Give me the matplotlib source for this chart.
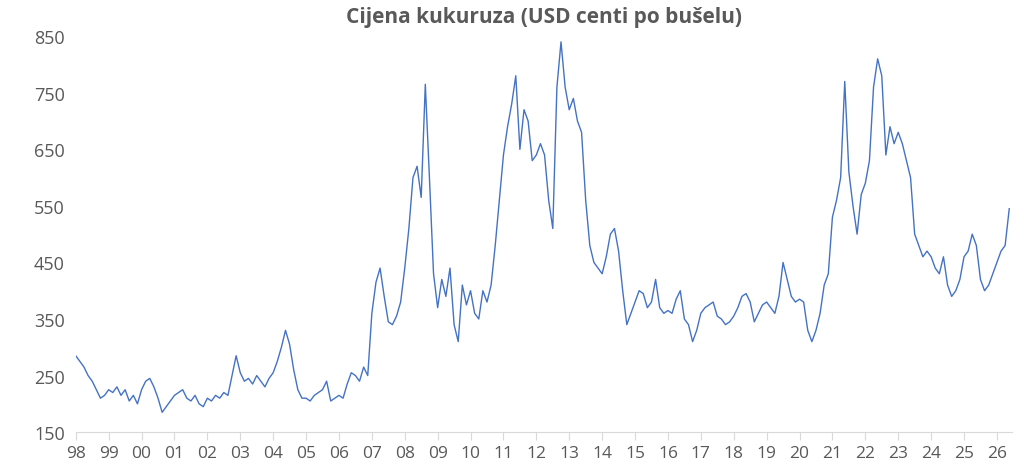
import matplotlib
matplotlib.use('Agg')
import matplotlib.pyplot as plt
import numpy as np

plt.rcParams['font.family'] = ['Open Sans', 'DejaVu Sans']

# price in USD cents per bushel, 8 readings per year from 1998
prices_by_year = {
    1998: [285, 275, 265, 250, 240, 225, 210, 215],
    1999: [225, 220, 230, 215, 225, 205, 215, 200],
    2000: [225, 240, 245, 230, 210, 185, 195, 205],
    2001: [215, 220, 225, 210, 205, 215, 200, 195],
    2002: [210, 205, 215, 210, 220, 215, 250, 285],
    2003: [255, 240, 245, 235, 250, 240, 230, 245],
    2004: [255, 275, 300, 330, 305, 260, 225, 210],
    2005: [210, 205, 215, 220, 225, 240, 205, 210],
    2006: [215, 210, 235, 255, 250, 240, 265, 250],
    2007: [360, 415, 440, 390, 345, 340, 355, 380],
    2008: [440, 510, 600, 620, 565, 765, 600, 430],
    2009: [370, 420, 390, 440, 340, 310, 410, 375],
    2010: [400, 360, 350, 400, 380, 410, 480, 560],
    2011: [640, 690, 730, 780, 650, 720, 700, 630],
    2012: [640, 660, 640, 560, 510, 760, 840, 760],
    2013: [720, 740, 700, 680, 560, 480, 450, 440],
    2014: [430, 460, 500, 510, 470, 400, 340, 360],
    2015: [380, 400, 395, 370, 380, 420, 370, 360],
    2016: [365, 360, 385, 400, 350, 340, 310, 330],
    2017: [360, 370, 375, 380, 355, 350, 340, 345],
    2018: [355, 370, 390, 395, 380, 345, 360, 375],
    2019: [380, 370, 360, 390, 450, 420, 390, 380],
    2020: [385, 380, 330, 310, 330, 360, 410, 430],
    2021: [530, 560, 600, 770, 610, 550, 500, 570],
    2022: [590, 630, 760, 810, 780, 640, 690, 660],
    2023: [680, 660, 630, 600, 500, 480, 460, 470],
    2024: [460, 440, 430, 460, 410, 390, 400, 420],
    2025: [460, 470, 500, 480, 420, 400, 410, 430],
    2026: [450, 470, 480, 545],
}
year_labels = [f"{y % 100:02d}" for y in range(1998, 2027)]

x = []
y = []
for yr, vals in prices_by_year.items():
    for i, v in enumerate(vals):
        x.append(yr + i / 8)
        y.append(v)

fig = plt.figure(figsize=(10.24, 4.77), dpi=100)
ax = fig.add_axes([0.074, 0.092, 0.914, 0.83])
ax.plot(x, y, color='#4472C4', lw=1.0)

ax.set_xlim(1998, 2026.45)
ax.set_ylim(150, 850)
ax.set_yticks(range(150, 851, 100))
ax.set_xticks(range(1998, 2027))
ax.set_xticklabels(year_labels)
for s in ['top', 'right', 'left']:
    ax.spines[s].set_visible(False)
ax.spines['bottom'].set_color('#d9d9d9')
ax.tick_params(axis='y', length=0, labelsize=13, colors='#595959', pad=8)
ax.tick_params(axis='x', length=6, color='#d9d9d9', labelsize=12.5, colors='#595959')
ax.set_title('Cijena kukuruza (USD centi po bušelu)', fontsize=15, fontweight='bold',
             color='#595959', pad=10)

fig.savefig('out.png', dpi=100)
